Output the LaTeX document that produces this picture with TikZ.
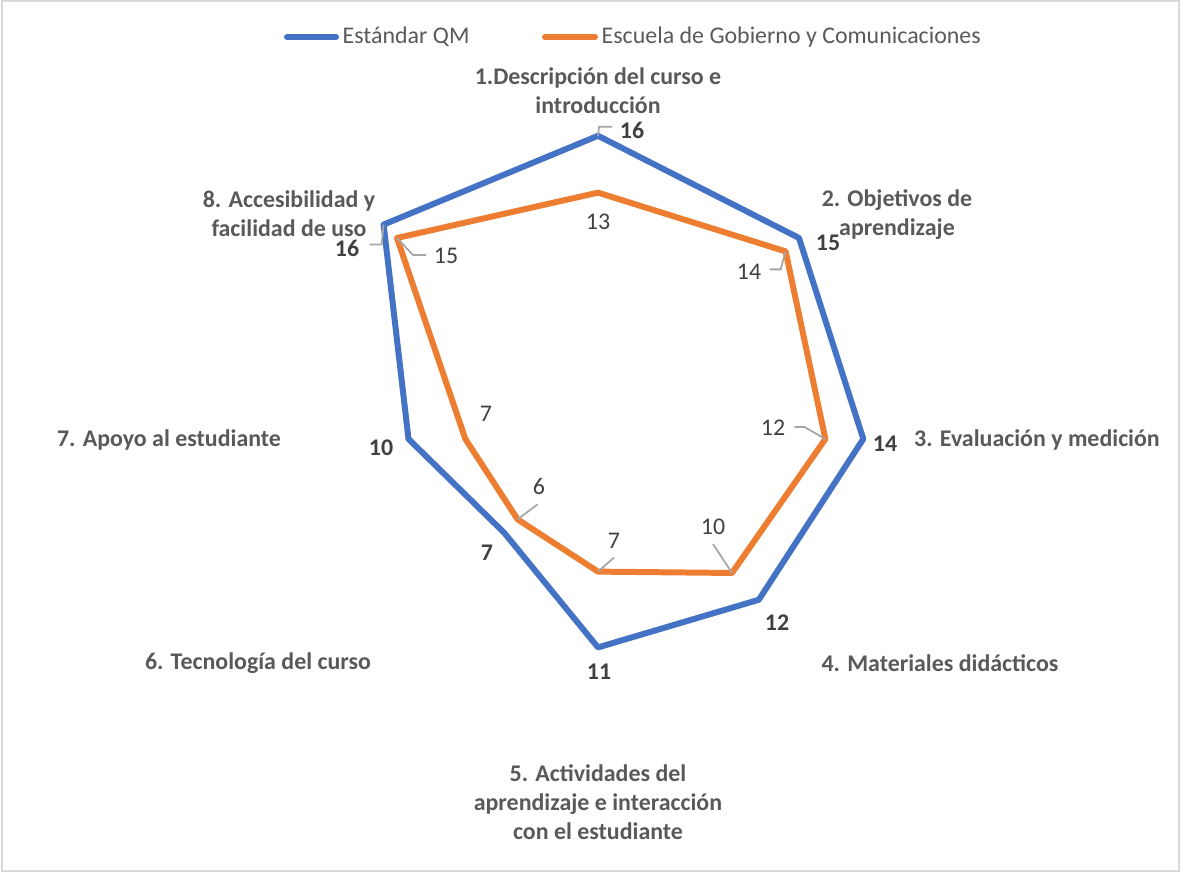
\documentclass[tikz,border=0pt]{standalone}
\usepackage{fontspec}
\setmainfont{Carlito}
\usepackage{tikz}
\definecolor{qmColor}{RGB}{68,114,196}
\definecolor{schoolColor}{RGB}{237,125,49}
\definecolor{labelColor}{RGB}{89,89,89}
\definecolor{valueColor}{RGB}{64,64,64}
\definecolor{leaderColor}{RGB}{166,166,166}
\definecolor{frameColor}{RGB}{217,217,217}
\newcommand{\chartSize}{\fontsize{6.8}{8.2}\selectfont}
\tikzstyle{chart} = [x = .01cm, y = .01cm, font=\chartSize]
\tikzstyle{qmLine} = [color=qmColor, line width=1.7pt, line join=round]
\tikzstyle{schoolLine} = [color=schoolColor, line width=1.7pt, line join=round]
\tikzstyle{categoryText} = [text=labelColor, font=\chartSize\bfseries, align=center, inner sep=0pt]
\tikzstyle{qmValue} = [text=valueColor, font=\chartSize\bfseries, inner sep=0pt]
\tikzstyle{schoolValue} = [text=valueColor, inner sep=0pt]
\tikzstyle{leaderLine} = [color=leaderColor, line width=.5pt]
\tikzstyle{legendText} = [text=labelColor, anchor=west, inner sep=0pt]
\tikzstyle{frameLine} = [color=frameColor, line width=.6pt]
\newcommand{\unitLength}{18.95}
\newcommand{\radarPoint}[3]{\coordinate (#1) at ({90 - 45 * (#2 - 1)}:{#3 * \unitLength});}

\begin{document}
\begin{tikzpicture}[chart]
        \useasboundingbox (0,0) rectangle (1181,874);
        \draw [frameLine] (2,3) rectangle (1179,873);

        % legend
        \coordinate (qmKey) at (287,837);
        \coordinate (schoolKey) at (545,837);
        \node [legendText] (qmLegend) at (342,837) {Estándar QM};
        \node [legendText] (schoolLegend) at (601,837) {Escuela de Gobierno y Comunicaciones};
        \draw [qmLine, line cap=round] (qmKey) -- ([xshift=-.6mm]qmLegend.west);
        \draw [schoolLine, line cap=round] (schoolKey) -- ([xshift=-.6mm]schoolLegend.west);

        % series
        \begin{scope}[shift={(598,435)}]
          \coordinate (ctr) at (0,0);
          \foreach \score [count=\axis] in {16,15,14,12,11,7,10,16} {
            \radarPoint{qm\axis}{\axis}{\score}
          }
          \foreach \score [count=\axis] in {13,14,12,10,7,6,7,15} {
            \radarPoint{es\axis}{\axis}{\score}
          }
          \draw [qmLine] (qm1) \foreach \axis in {2,...,8} {-- (qm\axis)} -- cycle;
          \draw [schoolLine] (es1) \foreach \axis in {2,...,8} {-- (es\axis)} -- cycle;
        \end{scope}

        % category labels
        \node [categoryText] (cat1) at (598,783) {1.Descripción del curso e\\introducción};
        \node [categoryText] (cat2) at (897,659) {2. Objetivos de\\aprendizaje};
        \node [categoryText] (cat3) at (1037,434) {3. Evaluación y medición};
        \node [categoryText] (cat4) at (940,211) {4. Materiales didácticos};
        \node [categoryText] (cat5) at (598,72) {5. Actividades del\\aprendizaje e interacción\\con el estudiante};
        \node [categoryText] (cat6) at (258,211) {6. Tecnología del curso};
        \node [categoryText] (cat7) at (169,434) {7. Apoyo al estudiante};
        \node [categoryText] (cat8) at (289,660) {8. Accesibilidad y\\facilidad de uso};

        % data labels
        \node [qmValue] (qmVal1) at (632,744) {16};
        \node [qmValue] (qmVal2) at (828,631) {15};
        \node [qmValue] (qmVal3) at (885,430) {14};
        \node [qmValue] (qmVal4) at (777,251) {12};
        \node [qmValue] (qmVal5) at (599,202) {11};
        \node [qmValue] (qmVal6) at (487,321) {7};
        \node [qmValue] (qmVal7) at (381,426) {10};
        \node [qmValue] (qmVal8) at (347,626) {16};

        \node [schoolValue] (esVal1) at (598,652) {13};
        \node [schoolValue] (esVal2) at (749,602) {14};
        \node [schoolValue] (esVal3) at (773,446) {12};
        \node [schoolValue] (esVal4) at (713,347) {10};
        \node [schoolValue] (esVal5) at (614,333) {7};
        \node [schoolValue] (esVal6) at (539,387) {6};
        \node [schoolValue] (esVal7) at (486,460) {7};
        \node [schoolValue] (esVal8) at (446,618) {15};

        % leader lines
        \draw [leaderLine] (qm1) -- ++(1,9) -- ++(13,0);
        \draw [leaderLine] (qm8) -- ++(-2,-20) -- ++(-12,0);
        \draw [leaderLine] (es8) -- ++(16,-17) -- ++(13,0);
        \draw [leaderLine] (es2) -- ++(-5,-18) -- ++(-11,0);
        \draw [leaderLine] (es3) -- ++(-21,12) -- ++(-10,0);
        \draw [leaderLine] (es4) -- ++(-19,29);
        \draw [leaderLine] (es5) -- ++(16,14);
        \draw [leaderLine] (es6) -- ++(20,15);
      \end{tikzpicture}
\end{document}
